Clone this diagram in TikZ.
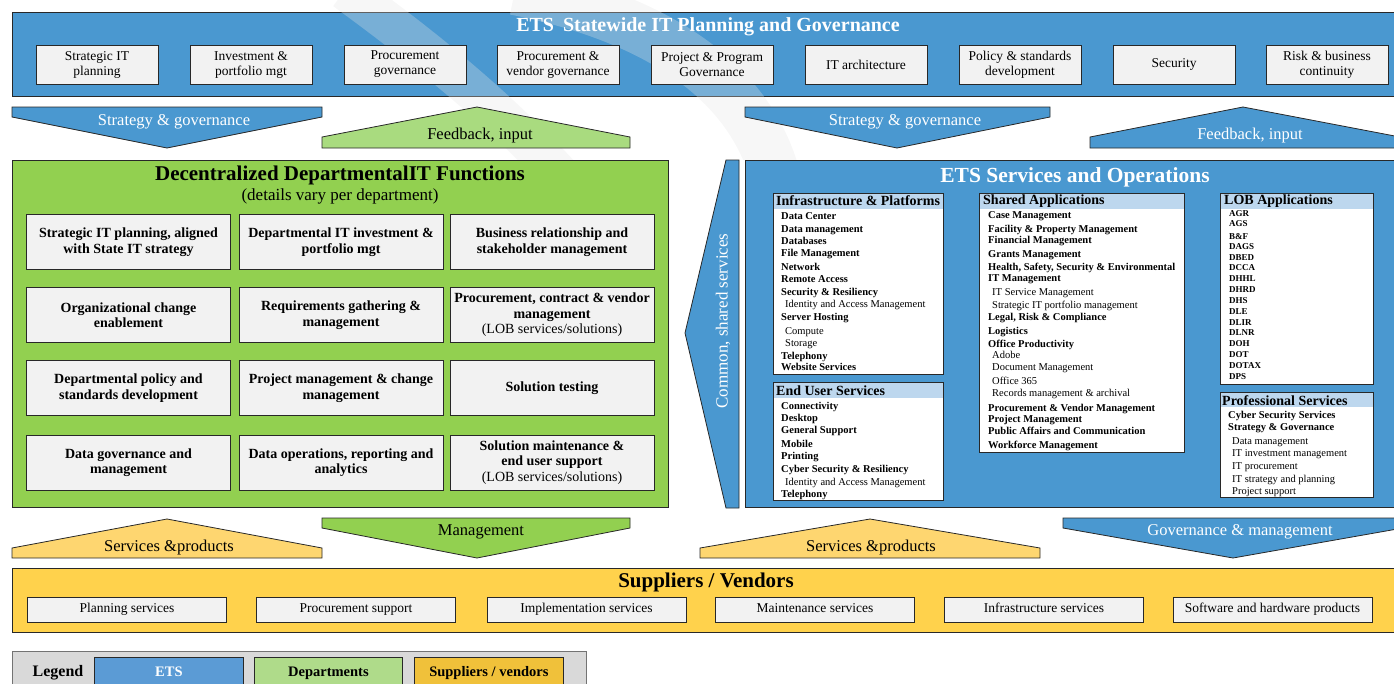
\documentclass[tikz,border=0pt]{standalone}
\usepackage{fontspec}
\setmainfont{Liberation Serif}
\definecolor{etsblue}{RGB}{74,152,208}
\definecolor{grnpanel}{RGB}{146,208,80}
\definecolor{grnlight}{RGB}{169,219,127}
\definecolor{supyel}{RGB}{255,210,76}
\definecolor{suplight}{RGB}{254,214,112}
\definecolor{boxgray}{RGB}{242,242,242}
\definecolor{hdrblue}{RGB}{189,215,238}
\definecolor{legbg}{RGB}{217,217,217}
\definecolor{legets}{RGB}{91,155,213}
\definecolor{legdep}{RGB}{175,219,138}
\definecolor{legsup}{RGB}{240,193,58}
\definecolor{edge}{RGB}{40,40,40}
\newcommand\mysubpanel[5]{%
  \fill[white] (#1,#2) rectangle (#3,#4);
  \fill[hdrblue] (#1,#2) rectangle (#3,#5);
  \draw[draw=edge, line width=0.8pt] (#1,#2) rectangle (#3,#4);}
\tikzset{
 panel/.style={draw=edge, line width=0.9pt},
 arrowshape/.style={draw=edge, line width=0.8pt, line join=miter},
 tbox/.style={draw=edge, fill=boxgray, line width=0.8pt, minimum width=122pt, minimum height=39pt, align=center, inner sep=1pt, font=\fontsize{13.5}{15}\selectfont},
 gbox/.style={draw=edge, fill=boxgray, line width=0.8pt, minimum width=204pt, minimum height=55pt, align=center, inner sep=1pt, font=\fontsize{14}{15.5}\selectfont\bfseries},
 sbox/.style={draw=edge, fill=boxgray, line width=0.8pt, minimum width=199pt, minimum height=25pt, inner sep=1pt, text height=9.5pt, text depth=3pt, font=\fontsize{13.5}{15}\selectfont},
 arrlbl/.style={font=\fontsize{16.5}{18}\selectfont, inner sep=0pt},
 hdr/.style={anchor=west, inner sep=0pt, font=\fontsize{14}{15}\selectfont\bfseries},
 lstb/.style={anchor=west, inner sep=0pt, text height=7.5pt, text depth=2.5pt, font=\fontsize{10.5}{12}\selectfont\bfseries},
 lstr/.style={anchor=west, inner sep=0pt, text height=7.5pt, text depth=2.5pt, xshift=4pt, font=\fontsize{10.5}{12}\selectfont},
 lob/.style={anchor=west, inner sep=0pt, text height=6.5pt, text depth=2pt, font=\fontsize{9}{10}\selectfont\bfseries},
 legsw/.style={draw=edge, line width=0.8pt, minimum height=34pt, font=\fontsize{14.5}{16}\selectfont\bfseries},
 wmark/.style={gray!20, opacity=0.3},
}
\begin{document}
\begin{tikzpicture}[x=1pt,y=-1pt]
\path[use as bounding box] (0,0) rectangle (1394,683);
\clip (0,0) rectangle (1394,683);

% ---------- top bar ----------
\draw[panel, fill=etsblue] (12,12) rectangle (1400,96);

% ---------- faint watermark ----------
\begin{scope}
\clip (0,0) rectangle (1394,159);
\draw[wmark, line width=40pt] (345,-10) .. controls (420,45) and (490,100) .. (560,175);
\draw[wmark, line width=50pt] (515,-10) .. controls (640,15) and (745,70) .. (775,175);
\end{scope}

\node[text=white, font=\fontsize{20}{22}\selectfont\bfseries, inner sep=0pt] (toptitle) at (708,27) {ETS\hspace{4pt} Statewide IT Planning and Governance};
\foreach \n/\x/\t in {1/97/{Strategic IT\\planning},
                      2/251/{Investment \&\\portfolio mgt},
                      3/405/{Procurement\\governance},
                      4/558/{Procurement \&\\vendor governance},
                      5/712/{Project \& Program\\Governance},
                      6/866/{IT architecture},
                      7/1020/{Policy \& standards\\development},
                      8/1174/{Security},
                      9/1327/{Risk \& business\\continuity}}
  \node[tbox] (top\n) at (\x,64.5) {\t};

% ---------- upper arrows ----------
\path[arrowshape, fill=etsblue] (12,107) -- (322,107) -- (322,117) -- (167,148) -- (12,117) -- cycle;
\node[arrlbl, text=white] (sgleft) at (174,122) {Strategy \& governance};
\path[arrowshape, fill=grnlight] (322,148) -- (322,137) -- (477,107) -- (630,137) -- (630,148) -- cycle;
\node[arrlbl] (fbleft) at (480,136) {Feedback, input};
\path[arrowshape, fill=etsblue] (745,107) -- (1050,107) -- (1050,117) -- (897,148) -- (745,117) -- cycle;
\node[arrlbl, text=white] (sgright) at (905,122) {Strategy \& governance};
\path[arrowshape, fill=etsblue] (1090,148) -- (1090,137) -- (1243,107) -- (1400,137) -- (1400,148) -- cycle;
\node[arrlbl, text=white] (fbright) at (1250,136) {Feedback, input};

% ---------- departmental panel ----------
\draw[panel, fill=grnpanel] (12,160) rectangle (668,507);
\node[font=\fontsize{21}{23}\selectfont\bfseries, inner sep=0pt] (deptitle) at (340,175) {Decentralized DepartmentalIT Functions};
\node[font=\fontsize{17}{19}\selectfont, inner sep=0pt] (depsub) at (340,196) {(details vary per department)};
\node[gbox] (d11) at (128.5,242) {Strategic IT planning, aligned\\with State IT strategy};
\node[gbox] (d12) at (341,242) {Departmental IT investment \&\\portfolio mgt};
\node[gbox] (d13) at (552,242) {Business relationship and\\stakeholder management};
\node[gbox] (d21) at (128.5,315) {Organizational change\\enablement};
\node[gbox] (d22) at (341,315) {Requirements gathering \&\\management};
\node[gbox] (d23) at (552,315) {Procurement, contract \& vendor\\management\\{\mdseries (LOB services/solutions)}};
\node[gbox] (d31) at (128.5,388) {Departmental policy and\\standards development};
\node[gbox] (d32) at (341,388) {Project management \& change\\management};
\node[gbox] (d33) at (552,388) {Solution testing};
\node[gbox] (d41) at (128.5,462.5) {Data governance and\\management};
\node[gbox] (d42) at (341,462.5) {Data operations, reporting and\\analytics};
\node[gbox] (d43) at (552,462.5) {Solution maintenance \&\\end user support\\{\mdseries (LOB services/solutions)}};

% ---------- common shared services arrow ----------
\path[arrowshape, fill=etsblue] (739,160) -- (739,508) -- (726,508) -- (685,333) -- (726,160) -- cycle;
\node[text=white, rotate=90, font=\fontsize{17}{19}\selectfont, inner sep=0pt] (common) at (723,321) {Common, shared services};

% ---------- ETS services panel ----------
\draw[panel, fill=etsblue] (745,160) rectangle (1400,507);
\node[text=white, font=\fontsize{21.5}{23}\selectfont\bfseries, inner sep=0pt] (etstitle) at (1075,177) {ETS Services and Operations};

\mysubpanel{773}{193}{943}{374}{209}
\node[hdr] (hinf) at (776,201) {Infrastructure \& Platforms};
\foreach \y/\k/\t in {217/b/Data Center, 230/b/Data management, 242/b/Databases, 254/b/File Management,
   268/b/Network, 280/b/Remote Access, 293/b/Security \& Resiliency, 305/r/Identity and Access Management,
   318/b/Server Hosting, 332/r/Compute, 344/r/Storage, 357/b/Telephony, 368/b/Website Services}
  \node[lst\k] (inf\y) at (781,\y) {\t};

\mysubpanel{773}{382}{943}{500}{398}
\node[hdr] (heus) at (776,391) {End User Services};
\foreach \y/\k/\t in {407/b/Connectivity, 419/b/Desktop, 431/b/General Support, 445/b/Mobile, 457/b/Printing,
   470/b/Cyber Security \& Resiliency, 483/r/Identity and Access Management, 495/b/Telephony}
  \node[lst\k] (eus\y) at (781,\y) {\t};

\mysubpanel{979}{193}{1184}{452}{209}
\node[hdr] (hsha) at (983,201) {Shared Applications};
\foreach \y/\k/\t in {216/b/Case Management, 230/b/Facility \& Property Management, 241/b/Financial Management,
   255/b/Grants Management, 268/b/{Health, Safety, Security \& Environmental}, 279/b/IT Management,
   293/r/IT Service Management, 306/r/Strategic IT portfolio management, 318/b/{Legal, Risk \& Compliance},
   332/b/Logistics, 345/b/Office Productivity, 356/r/Adobe, 368/r/Document Management, 382/r/Office 365,
   394/r/Records management \& archival, 409/b/Procurement \& Vendor Management, 420/b/Project Management,
   432/b/Public Affairs and Communication, 446/b/Workforce Management}
  \node[lst\k] (sha\y) at (988,\y) {\t};

\mysubpanel{1220}{193}{1373}{384}{209}
\node[hdr] (hlob) at (1224,201) {LOB Applications};
\foreach \y/\t in {214/AGR, 224/AGS, 237/B\&F, 247/DAGS, 258/DBED, 268/DCCA, 279/DHHL, 290/DHRD, 301/DHS,
   312/DLE, 323/DLIR, 333/DLNR, 344/DOH, 355/DOT, 366/DOTAX, 377/DPS}
  \node[lob] (lob\y) at (1229,\y) {\t};

\mysubpanel{1220}{392}{1373}{497}{407}
\node[hdr] (hpro) at (1222,401) {Professional Services};
\foreach \y/\k/\t in {416/b/Cyber Security Services, 428/b/Strategy \& Governance, 442/r/Data management,
   454/r/IT investment management, 467/r/IT procurement, 480/r/IT strategy and planning, 492/r/Project support}
  \node[lst\k] (pro\y) at (1228,\y) {\t};

% ---------- lower arrows ----------
\path[arrowshape, fill=suplight] (12,558) -- (12,548) -- (167,519) -- (322,548) -- (322,558) -- cycle;
\node[arrlbl] (spleft) at (169,548) {Services \&products};
\path[arrowshape, fill=grnpanel] (322,518) -- (630,518) -- (630,528) -- (477,558) -- (322,528) -- cycle;
\node[arrlbl] (mgmt) at (481,532) {Management};
\path[arrowshape, fill=suplight] (700,558) -- (700,548) -- (870,519) -- (1040,548) -- (1040,558) -- cycle;
\node[arrlbl] (spmid) at (871,548) {Services \&products};
\path[arrowshape, fill=etsblue] (1063,518) -- (1403,518) -- (1403,528) -- (1233,558) -- (1063,528) -- cycle;
\node[arrlbl, text=white] (govmg) at (1240,532) {Governance \& management};

% ---------- suppliers ----------
\draw[panel, fill=supyel] (12,568) rectangle (1400,632);
\node[font=\fontsize{21}{23}\selectfont\bfseries, inner sep=0pt] (suptitle) at (706,582) {Suppliers / Vendors};
\foreach \n/\x/\t in {1/127/Planning services, 2/356/Procurement support, 3/586.5/Implementation services,
   4/815/Maintenance services, 5/1044/Infrastructure services, 6/1272.5/Software and hardware products}
  \node[sbox] (sup\n) at (\x,609.5) {\t};

% ---------- legend ----------
\draw[draw=black!55, line width=0.8pt, fill=legbg] (12,651) rectangle (586,700);
\node[font=\fontsize{16}{18}\selectfont\bfseries, inner sep=0pt] (legtitle) at (58,673) {Legend};
\node[legsw, fill=legets, text=white, minimum width=149pt, anchor=north west] (legets) at (94,657) {\raisebox{6pt}{ETS}};
\node[legsw, fill=legdep, minimum width=148pt, anchor=north west] (legdep) at (254,657) {\raisebox{6pt}{Departments}};
\node[legsw, fill=legsup, minimum width=149pt, anchor=north west] (legsup) at (414,657) {\raisebox{6pt}{Suppliers / vendors}};
\end{tikzpicture}
\end{document}
